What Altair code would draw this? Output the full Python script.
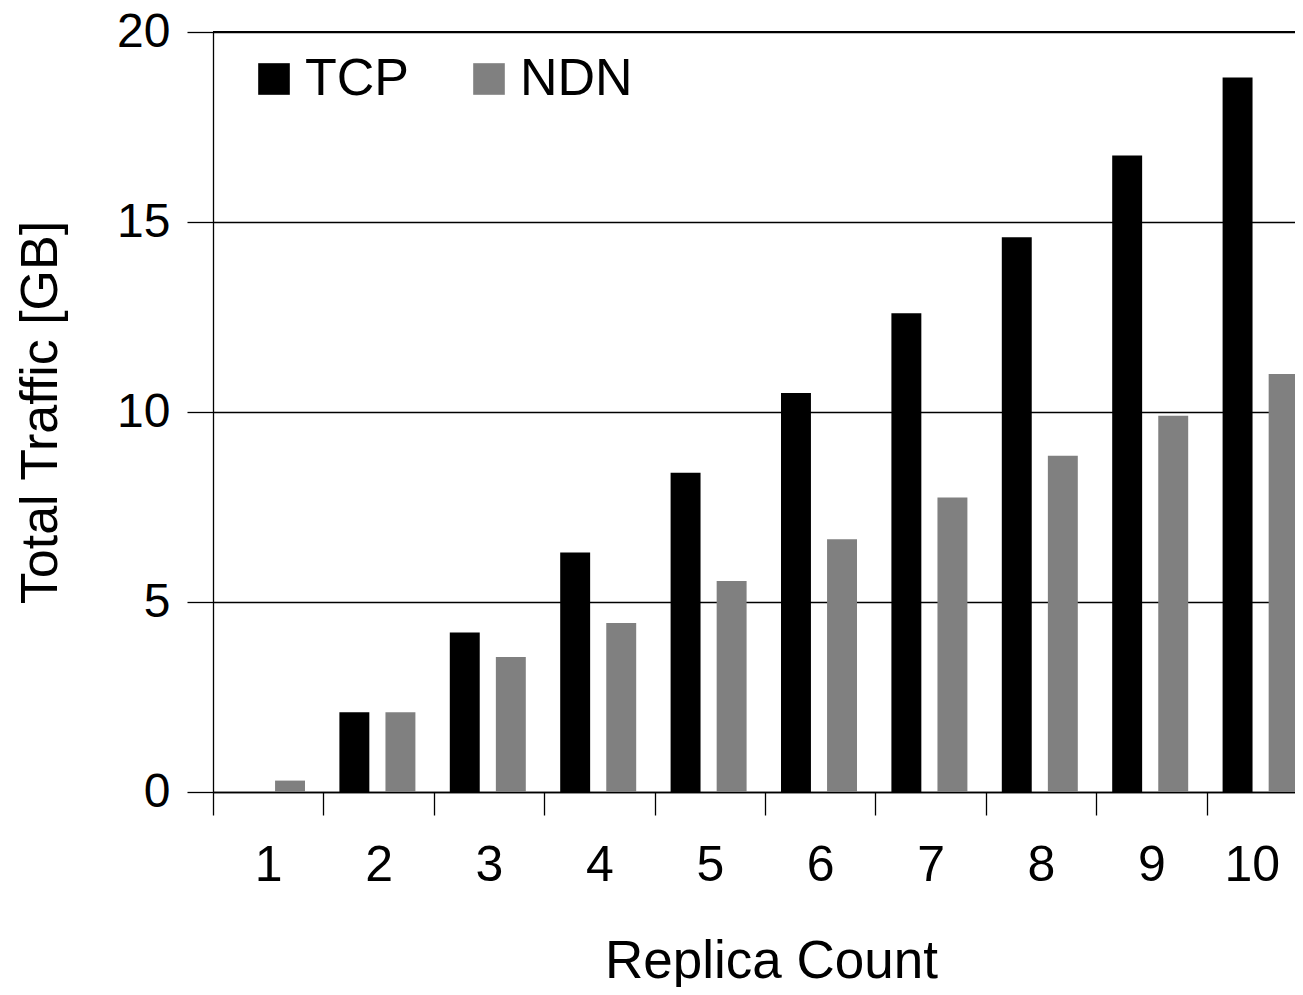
import altair as alt
import pandas as pd

replicas = ["1", "2", "3", "4", "5", "6", "7", "8", "9", "10"]
tcp = [0.0, 2.1, 4.2, 6.3, 8.4, 10.5, 12.6, 14.6, 16.75, 18.8]
ndn = [0.3, 2.1, 3.55, 4.45, 5.55, 6.65, 7.75, 8.85, 9.9, 11.0]
series = ["TCP", "NDN"]
colors = ["#000000", "#808080"]
y_ticks = [0, 5, 10, 15, 20]

rows = []
for i, r in enumerate(replicas):
    rows.append({"replica": r, "series": "TCP", "value": tcp[i]})
    rows.append({"replica": r, "series": "NDN", "value": ndn[i]})
df = pd.DataFrame(rows)

FONT = "Liberation Sans"

bars = alt.Chart(df).mark_bar().encode(
    x=alt.X(
        "replica:N",
        sort=replicas,
        scale=alt.Scale(range=[0, 1104], paddingInner=0, paddingOuter=0),
        axis=alt.Axis(
            title="Replica Count",
            labelAngle=0,
            labelFontSize=50,
            labelFont=FONT,
            labelColor="black",
            labelPadding=25,
            labelOffset={"condition": {"test": "datum.value === '10'", "value": -10}, "value": 0},
            tickBand="extent",
            tickSize=23,
            tickColor="black",
            tickWidth=1.3,
            domainColor="black",
            domainWidth=1.3,
            titleFont=FONT,
            titleFontSize=53,
            titleFontWeight="normal",
            titleColor="black",
            titleBaseline="alphabetic",
            titleAlign="center",
            titleX=558,
            titleY=185,
            grid=False,
        ),
    ),
    xOffset=alt.XOffset(
        "series:N",
        sort=series,
        scale=alt.Scale(domain=series, range=[16, 92], paddingInner=0.35, paddingOuter=0),
    ),
    y=alt.Y(
        "value:Q",
        scale=alt.Scale(domain=[0, 20], nice=False),
        axis=alt.Axis(
            title="Total Traffic [GB]",
            values=y_ticks,
            labelFontSize=48,
            labelFont=FONT,
            labelColor="black",
            labelPadding=17,
            tickSize=26,
            tickColor="black",
            tickWidth=1.3,
            domainColor="black",
            domainWidth=1.3,
            grid=True,
            gridColor="black",
            gridWidth=1.3,
            titleFont=FONT,
            titleFontSize=52,
            titleFontWeight="normal",
            titleColor="black",
            titleBaseline="alphabetic",
            titleAlign="center",
            titleAngle=270,
            titleX=-157,
            titleY=380,
        ),
    ),
    color=alt.Color(
        "series:N",
        sort=series,
        scale=alt.Scale(domain=series, range=colors),
        legend=alt.Legend(
            title=None,
            orient="none",
            direction="horizontal",
            legendX=35,
            legendY=21,
            padding=0,
            symbolType="square",
            symbolSize=1000,
            symbolStrokeWidth=0,
            labelFontSize=52,
            labelFont=FONT,
            labelColor="black",
            labelOffset=5,
            columnPadding=54,
        ),
    ),
)

top_line = alt.Chart(pd.DataFrame({"v": [20]})).mark_rule(color="black", strokeWidth=2.2).encode(
    y=alt.Y("v:Q")
)

chart = alt.layer(bars, top_line).properties(
    width=1082,
    height=760,
    autosize=alt.AutoSizeParams(type="none"),
    padding={"left": 205, "top": 24, "right": 0, "bottom": 195},
    background="white",
).configure_view(stroke=None)

chart.save("out.html", embed_options={"renderer": "svg", "actions": False})
